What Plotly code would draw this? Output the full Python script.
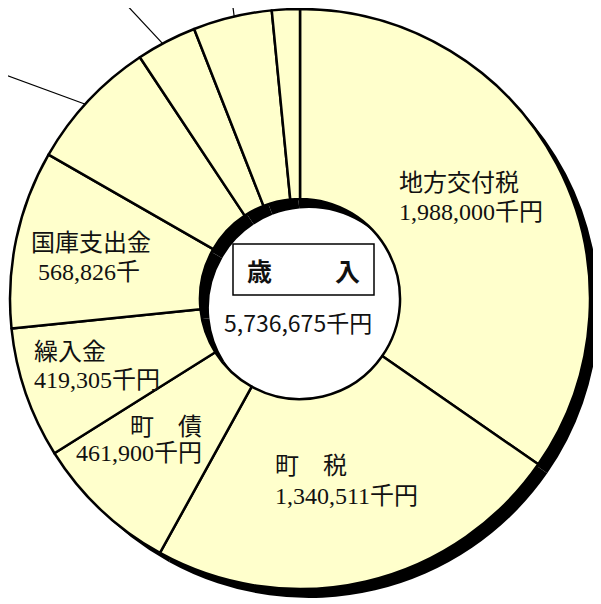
import math
import plotly.graph_objects as go

# ---- data ----
categories = ["地方交付税", "町　税", "町　債", "繰入金", "国庫支出金",
              "その他1", "その他2", "その他3", "その他4"]
values = [1988000, 1340511, 461900, 419305, 568826, 424000, 193000, 252000, 89133]
value_suffix = ["千円", "千円", "千円", "千円", "千", "", "", "", ""]
total_label = "5,736,675千円"
center_title = ["歳", "入"]

# ---- layout constants (window pixels) ----
OFF = 8                      # page body margin
W, H = 601 - OFF, 604 - OFF  # figure size so it fills the window
CX, CY, R = 300, 299, 290
HOLE = 0.345
SHADOW = 9

FILL = "#FFFFCC"
SERIF = "Liberation Serif, Noto Sans CJK JP"
SANS = "Noto Sans CJK JP"

def px_domain(cx, cy, r):
    cx -= OFF
    cy -= OFF
    return dict(x=[(cx - r) / W, (cx + r) / W],
                y=[(H - (cy + r)) / H, (H - (cy - r)) / H])

fig = go.Figure()

# shadow donut
fig.add_trace(go.Pie(
    values=values, labels=categories, sort=False, direction="clockwise", rotation=0,
    hole=HOLE, domain=px_domain(CX + SHADOW, CY + SHADOW, R),
    marker=dict(colors=["black"] * len(values), line=dict(color="black", width=0)),
    textinfo="none", hoverinfo="skip", showlegend=False,
))

# main donut
fig.add_trace(go.Pie(
    values=values, labels=categories, sort=False, direction="clockwise", rotation=0,
    hole=HOLE, domain=px_domain(CX, CY, R),
    marker=dict(colors=[FILL] * len(values), line=dict(color="black", width=2.5)),
    textinfo="none", hoverinfo="skip", showlegend=False,
))

# leader lines for the small slices (labels sit outside the visible frame)
total = sum(values)
cum = 0
mids = []
for v in values:
    mids.append((cum + v / 2) / total * 360)
    cum += v
leader_ends = {5: (0, 73), 6: (122, 0), 7: (232, 0), 8: (287, 0)}
leader_r = {5: 0.96, 6: 0.95, 7: 0.935, 8: 0.92}
for i, (ex, ey) in leader_ends.items():
    a = math.radians(mids[i])
    sx = CX + leader_r[i] * R * math.sin(a)
    sy = CY - leader_r[i] * R * math.cos(a)
    fig.add_trace(go.Scatter(x=[sx, ex], y=[sy, ey], mode="lines",
                             line=dict(color="black", width=1.2),
                             hoverinfo="skip", showlegend=False))

# slice labels: (x, y line1, y line2, anchor)
label_pos = {
    0: (397, 183, 212, "left"),
    1: (273, 466, 496, "left"),
    2: (204, 427, 453, "right"),
    3: (32, 352, 380, "left"),
    4: (29, 243, 272, "left"),
}
for i, (x, y1, y2, anc) in label_pos.items():
    line2 = f"{values[i]:,}{value_suffix[i]}"
    x2 = x + 7 if i == 4 else x
    for txt, yy, xx in ((categories[i], y1, x), (line2, y2, x2)):
        fig.add_annotation(x=xx, y=yy, xref="x", yref="y", text=txt,
                           showarrow=False, xanchor=anc, yanchor="middle",
                           font=dict(family=SERIF, size=24, color="#111"))

# center title box
fig.add_shape(type="rect", xref="x", yref="y", x0=233, x1=374, y0=244, y1=295,
              line=dict(color="black", width=1.5), fillcolor="white")
fig.add_annotation(x=259, y=270, xref="x", yref="y", text=f"<b>{center_title[0]}</b>",
                   showarrow=False, font=dict(family=SANS, size=25, color="#111"))
fig.add_annotation(x=347, y=270, xref="x", yref="y", text=f"<b>{center_title[1]}</b>",
                   showarrow=False, font=dict(family=SANS, size=25, color="#111"))
fig.add_annotation(x=298, y=322, xref="x", yref="y", text=total_label,
                   showarrow=False, font=dict(family=SANS, size=23, color="#111"))

fig.update_layout(
    width=W, height=H, margin=dict(l=0, r=0, t=0, b=0),
    paper_bgcolor="white", plot_bgcolor="rgba(0,0,0,0)",
    xaxis=dict(range=[OFF, OFF + W], visible=False, fixedrange=True),
    yaxis=dict(range=[OFF + H, OFF], visible=False, fixedrange=True),
    showlegend=False,
)

fig.write_html("out.html")
